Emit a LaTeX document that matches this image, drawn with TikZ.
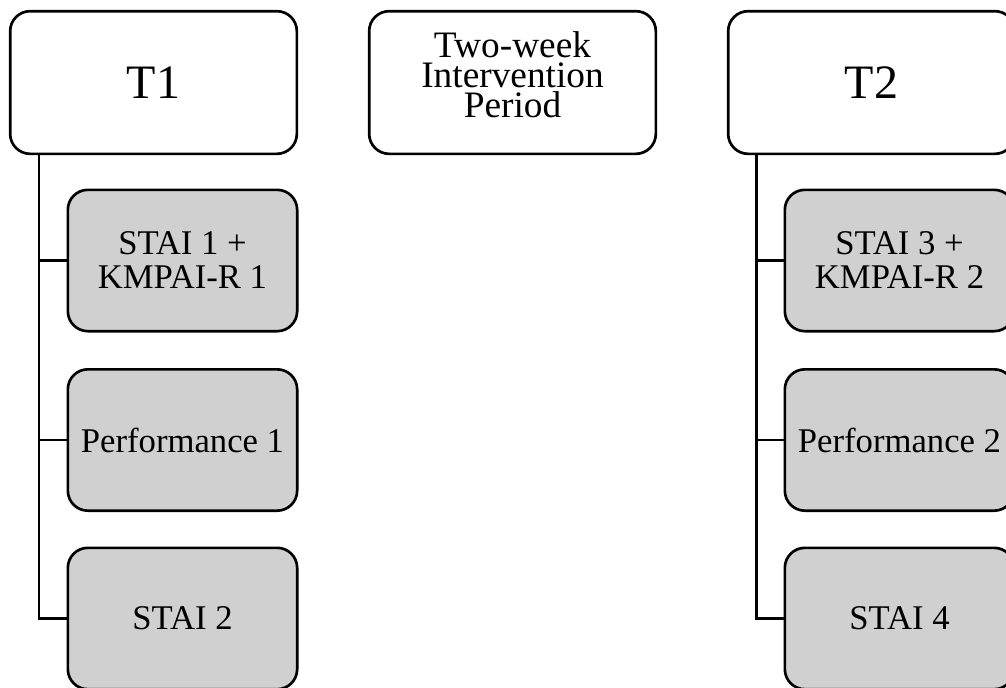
\documentclass[tikz,border=0pt]{standalone}
\usepackage{fontspec}
\setmainfont{Liberation Serif}
\definecolor{boxgrau}{RGB}{208,208,208}
\begin{document}
\begin{tikzpicture}[x=0.75pt, y=-0.75pt,
	zeitpunkt/.style={draw, line width=2pt, rounded corners=15pt, fill=white, align=center,
		minimum width=215pt, minimum height=107pt, inner sep=0pt},
	messung/.style={draw, line width=2pt, rounded corners=15pt, fill=boxgrau, align=center,
		minimum width=172pt, minimum height=106pt, inner sep=0pt,
		font=\fontsize{26}{25.5}\selectfont},
	verbindung/.style={draw, line width=2pt}]
\useasboundingbox (0,0) rectangle (1006,687);
% Zeitpunkte
\node[zeitpunkt, font=\fontsize{36}{40}\selectfont] (T1) at (153.5,82.5) {T1};
\node[zeitpunkt, font=\fontsize{28}{22.5}\selectfont, text depth=12pt] (IP) at (512.5,82.5) {Two-week\\Intervention\\Period};
\node[zeitpunkt, font=\fontsize{36}{40}\selectfont] (T2) at (871.5,82.5) {T2};
% Messungen T1
\node[messung] (S1) at (182.5,260.5) {STAI 1 +\\KMPAI-R 1};
\node[messung] (P1) at (182.5,440) {Performance 1};
\node[messung] (S2) at (182.5,618.5) {STAI 2};
% Messungen T2
\node[messung] (S3) at (899.5,260.5) {STAI 3 +\\KMPAI-R 2};
\node[messung] (P2) at (899.5,440) {Performance 2};
\node[messung] (S4) at (899.5,618.5) {STAI 4};
% Verbindungen
\draw[verbindung] ([xshift=22.5pt]T1.south west) |- (S1.west);
\draw[verbindung] ([xshift=22.5pt]T1.south west) |- (P1.west);
\draw[verbindung] ([xshift=22.5pt]T1.south west) |- (S2.west);
\draw[verbindung] ([xshift=22pt]T2.south west) |- (S3.west);
\draw[verbindung] ([xshift=22pt]T2.south west) |- (P2.west);
\draw[verbindung] ([xshift=22pt]T2.south west) |- (S4.west);
\end{tikzpicture}
\end{document}
